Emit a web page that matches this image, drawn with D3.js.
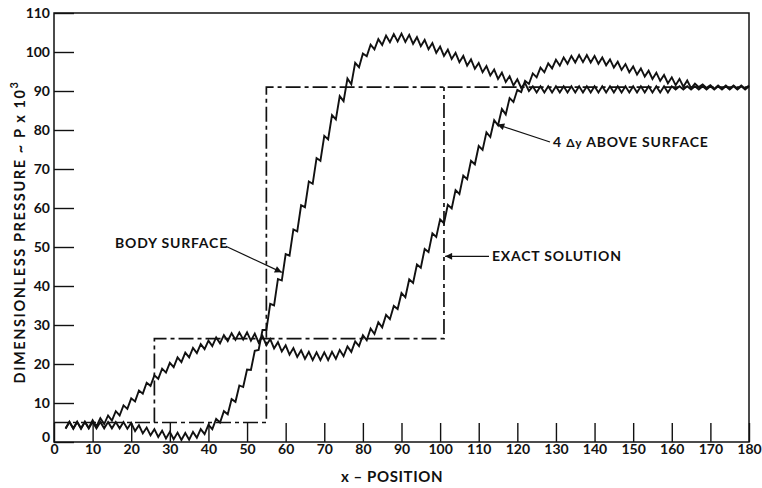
<!DOCTYPE html>
<html>
<head>
<meta charset="utf-8">
<script src="https://cdn.jsdelivr.net/npm/d3@7"></script>
<style>
  html, body { margin: 0; padding: 0; background: #fff; }
  svg text { font-family: Lato, "DejaVu Sans", sans-serif; fill: #111; }
</style>
</head>
<body>
<svg id="chart" width="762" height="488"></svg>
<script>
// ---------- data ----------
const xTicks = [0,10,20,30,40,50,60,70,80,90,100,110,120,130,140,150,160,170,180];
const yTicks = [0,10,20,30,40,50,60,70,80,90,100,110];

// computed curves: x runs from 3 to 180 in steps of one unit
const curveStartX = 3;
const bodySurface = [
  3.5,5.1,3.5,5.1,3.5,5.1,3.5,5.1,3.5,5.1,3.5,5.1,3.5,5.1,3.5,5.1,3.4,   // x=3..19
  4.9,2.8,4.3,2.2,3.7,1.7,3.3,1.3,2.9,0.9,2.6,0.7,2.4,0.5,2.3,0.6,2.6,1.1,3.3,2.0, // 20..39
  4.4,3.3,5.9,5.0,7.9,7.1,11.0,10.3,14.5,14.1,18.6,18.5,23.4,23.6,28.7,28.7,35.4,35.0,41.8,41.4, // 40..59
  48.2,47.8,54.5,54.0,60.7,60.2,66.8,66.2,72.8,72.1,78.5,77.6,83.8,82.7,88.7,87.4,93.2,91.7,97.2,96.1, // 60..79
  99.6,98.9,101.9,100.7,103.3,101.8,104.2,102.5,104.6,102.7,104.7,102.6,104.4,102.1,103.8,101.5,103.1,100.7,102.3,99.8, // 80..99
  101.4,99.0,100.6,98.2,99.8,97.4,99.0,96.5,98.1,95.7,97.2,94.8,96.4,94.0,95.5,93.1,94.7,92.3,93.8,91.4, // 100..119
  93.0,90.8,92.0,90.0,91.2,89.6,91.2,89.6,91.2,89.6,91.2,89.6,91.2,89.6,91.2,89.6,91.2,89.6,91.2,89.6, // 120..139
  91.2,89.6,91.2,89.6,91.2,89.6,91.2,89.6,91.2,89.6,91.2,89.6,91.2,89.6,91.2,89.6,91.2,89.6,91.2,89.6, // 140..159
  91.2,90.4,91.2,90.4,91.2,90.4,91.2,90.4,91.2,90.4,91.2,90.4,91.2,90.4,91.2,90.4,91.2,90.4,91.2,90.4, // 160..179
  91.2 // 180
];
const aboveSurface = [
  3.4,5.2,3.4,5.2,3.4,5.2,3.6,5.6,4.0,6.1,4.6,6.8,5.5,7.9,6.8,9.4,8.5,   // x=3..19
  11.2,10.4,13.2,12.4,15.2,14.4,17.1,16.2,18.8,17.8,20.3,19.2,21.7,20.5,22.9,21.7,24.1,22.8,25.1,23.8, // 20..39
  26.0,24.6,26.8,25.3,27.4,25.9,27.9,26.2,28.1,26.3,28.1,26.0,27.8,25.5,27.2,24.8,26.4,24.0,25.6,23.2, // 40..59
  24.8,22.4,24.1,21.8,23.5,21.3,23.1,21.0,23.0,21.0,23.0,21.0,23.1,21.3,23.6,22.0,24.5,23.1,25.8,24.6, // 60..79
  27.4,26.1,29.1,27.7,30.7,29.4,32.6,31.5,34.9,34.1,38.2,37.1,41.7,40.8,45.5,44.7,49.5,48.7,53.5,52.6, // 80..99
  57.1,56.1,60.8,59.9,64.6,63.6,68.3,67.4,72.1,71.2,75.9,74.9,79.4,78.2,82.5,81.2,85.4,84.0,88.2,87.2, // 100..119
  90.3,89.7,92.6,91.8,94.5,93.5,96.0,94.8,97.1,95.8,98.0,96.5,98.6,97.0,99.0,97.3,99.2,97.4,99.2,97.3, // 120..139
  99.0,97.0,98.6,96.6,98.1,96.0,97.5,95.4,96.9,94.8,96.3,94.2,95.8,93.7,95.2,93.1,94.7,92.6,94.1,92.0, // 140..159
  93.5,91.5,93.1,91.1,92.7,90.7,91.9,91.0,91.7,90.8,91.5,90.6,91.4,90.6,91.4,90.6,91.4,90.6,91.4,90.6, // 160..179
  91.4 // 180
];

// exact (step) solutions
const exactSurfaceX = [0, 55, 55, 180];
const exactSurfaceY = [5, 5, 91, 91];
const exactAboveX = [26, 26, 101, 101];
const exactAboveY = [5, 26.5, 26.5, 91];

// ---------- layout ----------
const svg = d3.select("#chart");
const x = d3.scaleLinear().domain([0, 180]).range([54, 749]);
const y = d3.scaleLinear().domain([0, 110]).range([442, 13]);

// frame
svg.append("rect")
  .attr("x", x(0)).attr("y", y(110))
  .attr("width", x(180) - x(0)).attr("height", y(0) - y(110))
  .attr("fill", "none").attr("stroke", "#111").attr("stroke-width", 1.5);

// x axis
const gx = svg.append("g").attr("transform", `translate(0,${y(0)})`)
  .call(d3.axisBottom(x).tickValues(xTicks).tickSize(-19).tickPadding(4).tickFormat(d3.format("d")));
gx.select(".domain").remove();
gx.selectAll(".tick line").attr("stroke", "#111").attr("stroke-width", 1.4);
gx.selectAll(".tick text").attr("font-size", 14).attr("font-weight", 700).attr("dy", "0.6em")
  .style("font-family", "Lato, 'DejaVu Sans', sans-serif").attr("fill", "#111");

// y axis
const gy = svg.append("g").attr("transform", `translate(${x(0)},0)`)
  .call(d3.axisRight(y).tickValues(yTicks).tickSize(20).tickPadding(0).tickFormat(d3.format("d")));
gy.select(".domain").remove();
gy.selectAll(".tick line").attr("stroke", "#111").attr("stroke-width", 1.4);
gy.selectAll(".tick text").attr("x", -4).attr("text-anchor", "end")
  .attr("font-size", 14).attr("font-weight", 700)
  .style("font-family", "Lato, 'DejaVu Sans', sans-serif").attr("fill", "#111");
gy.selectAll(".tick").filter(d => d === 0).select("text").attr("dy", "-0.05em");

// axis titles
svg.append("text")
  .attr("x", 392).attr("y", 482).attr("text-anchor", "middle")
  .attr("font-size", 15).attr("font-weight", 700).attr("letter-spacing", 0.6)
  .text("x – POSITION");

const yt = svg.append("text")
  .attr("transform", "translate(25,232) rotate(-90)")
  .attr("text-anchor", "middle")
  .attr("font-size", 14.5).attr("font-weight", 700).attr("letter-spacing", 1.6);
yt.append("tspan").text("DIMENSIONLESS PRESSURE ~ P x 10");
yt.append("tspan").attr("font-size", 11).attr("dy", "-0.6em").text("3");

// ---------- exact solutions (dash-dot) ----------
const line = d3.line().x(d => x(d[0])).y(d => y(d[1]));
const exSurf = exactSurfaceX.map((v, i) => [v, exactSurfaceY[i]]);
const exAbove = exactAboveX.map((v, i) => [v, exactAboveY[i]]);
[exSurf, exAbove].forEach(pts => {
  svg.append("path").datum(pts).attr("d", line)
    .attr("fill", "none").attr("stroke", "#111").attr("stroke-width", 1.7)
    .attr("stroke-dasharray", "15,4,4,4");
});

// ---------- computed curves ----------
[bodySurface, aboveSurface].forEach(vals => {
  const pts = vals.map((v, i) => [curveStartX + i, v]);
  svg.append("path").datum(pts).attr("d", line)
    .attr("fill", "none").attr("stroke", "#111").attr("stroke-width", 1.9)
    .attr("stroke-linejoin", "miter");
});

// ---------- annotations ----------
svg.append("defs").append("marker")
  .attr("id", "arrow").attr("viewBox", "0 0 10 10").attr("refX", 10).attr("refY", 5)
  .attr("markerWidth", 9).attr("markerHeight", 7).attr("markerUnits", "userSpaceOnUse")
  .attr("orient", "auto")
  .append("path").attr("d", "M0,0 L10,5 L0,10 Z").attr("fill", "#111");

function arrow(x1, y1, x2, y2) {
  svg.append("line").attr("x1", x1).attr("y1", y1).attr("x2", x2).attr("y2", y2)
    .attr("stroke", "#111").attr("stroke-width", 1.2).attr("marker-end", "url(#arrow)");
}
const lab = (tx, ty, t, anchor) => svg.append("text").attr("x", tx).attr("y", ty)
  .attr("text-anchor", anchor || "start").attr("font-size", 14).attr("font-weight", 700)
  .attr("letter-spacing", 0.8).text(t);

lab(115, 248, "BODY SURFACE");
arrow(x(44.5), y(50.2), x(59), y(43.5));

lab(492, 261, "EXACT SOLUTION");
arrow(489, y(47.6), x(101.3), y(47.6));

const t4 = svg.append("text").attr("x", 553).attr("y", 147)
  .attr("font-size", 14).attr("font-weight", 700).attr("letter-spacing", 0.8);
t4.append("tspan").text("4 ");
t4.append("tspan").attr("font-size", 12).text("Δy");
t4.append("tspan").text(" ABOVE SURFACE");
arrow(550, 142, x(114.8), y(81.4));
</script>
</body>
</html>
